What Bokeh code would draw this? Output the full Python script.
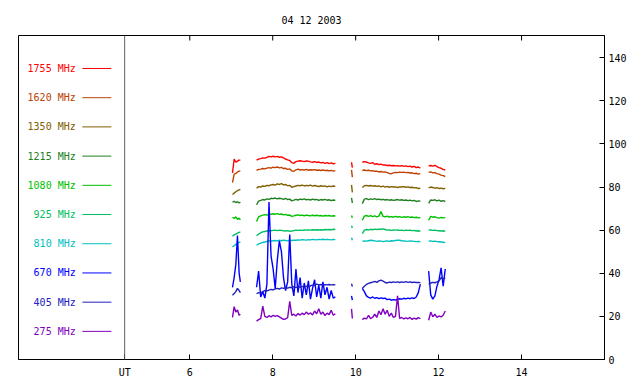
import numpy as np
from bokeh.plotting import figure
from bokeh.models import Range1d, LinearAxis, FixedTicker, Span, ColumnDataSource
from bokeh.core.properties import value
from bokeh.embed import file_html
from bokeh.resources import INLINE

GAP = float("nan")

title_text = "04 12 2003"
freq_labels = ["1755 MHz", "1620 MHz", "1350 MHz", "1215 MHz", "1080 MHz",
               "925 MHz", "810 MHz", "670 MHz", "405 MHz", "275 MHz"]
colors = ["#FF0000", "#C04000", "#806000", "#208020", "#00C000",
          "#00C060", "#00C0C0", "#0000FF", "#2020C0", "#8000C0"]
x_ticks = [6, 8, 10, 12, 14]
y_ticks = [0, 20, 40, 60, 80, 100, 120, 140]
ut_position = 4.43
y_max = 150.3

# observation times (UT hours), five segments
t_A = [7.03, 7.07, 7.11, 7.15, 7.19, 7.22]
t_B = [7.61, 7.66, 7.71, 7.76, 7.81, 7.86, 7.91, 7.96, 8.01, 8.06, 8.11, 8.16, 8.21,
       8.26, 8.31, 8.36, 8.41, 8.46, 8.51, 8.56, 8.61, 8.66, 8.71, 8.76, 8.81, 8.86,
       8.91, 8.96, 9.01, 9.06, 9.11, 9.16, 9.21, 9.26, 9.31, 9.36, 9.41, 9.46, 9.51]
t_C = [9.90, 9.92]
t_D = [10.16, 10.21, 10.26, 10.31, 10.36, 10.41, 10.46, 10.51, 10.56, 10.61, 10.66,
       10.71, 10.76, 10.81, 10.86, 10.91, 10.96, 11.01, 11.06, 11.11, 11.16, 11.21,
       11.26, 11.31, 11.36, 11.41, 11.46, 11.51, 11.56]
t_E = [11.76, 11.81, 11.86, 11.91, 11.96, 12.01, 12.06, 12.11, 12.16]
hours = t_A + [GAP] + t_B + [GAP] + t_C + [GAP] + t_D + [GAP] + t_E

f1755 = [86.5, 93.0, 91.5, 92.0, 92.5, 92.5, GAP,
         92.5, 93.0, 93.2, 93.5, 93.4, 93.8, 94.2, 94.0, 94.3, 94.0, 94.2, 93.8, 94.0,
         93.5, 93.0, 92.6, 92.3, 91.3, 91.0, 91.8, 92.0, 92.2, 92.0, 91.8, 92.1, 92.0,
         91.7, 91.5, 91.8, 91.4, 91.6, 91.2, 91.4, 91.0, 91.3, 90.9, 91.2, 90.8, 91.0, GAP,
         91.5, 89.0, GAP,
         91.5, 91.8, 91.6, 91.2, 91.0, 91.3, 90.6, 90.8, 90.4, 90.6, 90.2, 90.3, 90.0,
         90.1, 89.9, 90.0, 89.8, 89.9, 89.7, 89.9, 89.6, 89.8, 89.5, 89.7, 89.3, 89.6,
         89.0, 89.3, 88.8, GAP,
         89.8, 90.0, 89.7, 90.1, 89.5, 89.0, 88.7, 88.2, 87.9]
f1620 = [82.0, 86.0, 86.3, 87.0, 87.4, 87.5, GAP,
         87.8, 88.2, 88.3, 88.6, 88.4, 88.8, 89.0, 88.8, 89.2, 89.0, 89.3, 88.9, 89.1,
         88.6, 88.7, 88.2, 88.4, 87.5, 87.3, 88.0, 88.3, 87.9, 88.1, 87.9, 88.2, 87.8,
         88.0, 87.9, 88.1, 87.8, 87.9, 87.7, 87.9, 87.6, 87.8, 87.5, 87.7, 87.4, 87.6, GAP,
         88.0, 84.6, GAP,
         87.7, 87.9, 87.6, 87.8, 87.5, 87.6, 87.3, 87.4, 87.0, 87.2, 86.9, 87.0, 86.7,
         86.3, 86.2, 86.6, 86.8, 86.7, 86.9, 86.8, 86.9, 86.7, 86.8, 86.5, 86.6, 86.2,
         86.4, 86.0, 86.2, GAP,
         86.8, 87.0, 86.6, 86.7, 86.2, 86.0, 85.5, 85.3, 84.9]
f1350 = [76.5, 77.2, 77.8, 78.3, 78.7, 78.9, GAP,
         79.5, 80.2, 80.0, 80.5, 80.3, 80.8, 80.6, 81.0, 81.2, 80.9, 81.5, 81.2, 81.6,
         81.0, 81.2, 80.6, 80.8, 79.9, 80.2, 80.5, 80.8, 80.6, 80.9, 80.5, 80.8, 80.6,
         80.9, 80.4, 80.7, 80.5, 80.2, 80.6, 80.3, 80.5, 80.1, 80.4, 80.2, 80.5, 80.3, GAP,
         81.0, 77.5, GAP,
         79.8, 80.6, 80.8, 80.5, 80.7, 80.4, 80.6, 80.3, 80.5, 80.1, 80.4, 80.0, 80.3,
         79.9, 80.2, 80.0, 80.1, 79.8, 80.1, 80.0, 80.2, 79.9, 80.1, 79.8, 79.9, 79.6,
         79.7, 79.3, 79.5, GAP,
         79.6, 80.0, 79.8, 79.5, 79.7, 79.3, 79.5, 79.2, 79.4]
f1215 = [73.0, 73.4, 72.8, 73.2, 72.6, 73.0, GAP,
         71.8, 73.5, 73.8, 74.2, 74.0, 74.5, 74.3, 74.8, 74.6, 74.9, 74.5, 74.8, 74.6,
         74.3, 74.7, 74.2, 74.4, 73.6, 73.9, 74.3, 74.0, 74.4, 74.2, 74.5, 74.1, 74.3,
         74.0, 74.4, 74.1, 74.3, 73.8, 74.2, 74.0, 74.3, 73.9, 74.1, 73.7, 74.0, 73.8, GAP,
         75.0, 72.6, GAP,
         72.3, 74.4, 74.6, 74.2, 74.5, 74.3, 74.6, 74.2, 74.4, 74.1, 74.3, 74.0, 74.2,
         73.9, 74.1, 73.8, 74.0, 74.2, 73.9, 74.1, 73.8, 74.0, 73.7, 73.9, 73.6, 73.8,
         73.3, 73.6, 73.4, GAP,
         72.4, 74.0, 73.8, 74.1, 73.6, 73.9, 73.4, 73.7, 73.3]
f1080 = [66.0, 65.4, 66.2, 65.0, 65.6, 64.8, GAP,
         64.0, 66.2, 66.6, 67.0, 67.2, 67.0, 67.5, 67.3, 67.6, 67.4, 67.7, 67.3, 67.5,
         67.1, 67.3, 66.9, 67.0, 66.4, 66.6, 66.9, 67.1, 66.8, 67.0, 66.7, 67.0, 66.8,
         66.6, 66.9, 66.7, 66.9, 66.6, 66.8, 66.5, 66.8, 66.6, 66.8, 66.5, 66.7, 66.6, GAP,
         66.8, 65.8, GAP,
         64.6, 66.5, 66.8, 66.4, 66.7, 66.3, 66.6, 66.2, 66.5, 68.6, 66.4, 66.2, 66.5,
         66.1, 66.3, 66.0, 66.4, 66.1, 66.3, 65.9, 66.2, 66.0, 66.3, 65.9, 66.1, 65.8,
         66.0, 65.7, 65.9, GAP,
         64.6, 66.4, 66.0, 66.2, 65.8, 65.6, 65.9, 65.7, 65.8]
f925 = [57.2, 57.8, 58.2, 58.6, 59.0, 59.2, GAP,
        57.4, 58.2, 58.8, 59.2, 59.4, 59.6, 59.8, 59.7, 59.9, 60.0, 59.8, 60.0, 59.9,
        59.7, 59.6, 59.8, 59.5, 59.6, 59.8, 60.0, 59.9, 60.0, 59.9, 60.1, 60.0, 60.1,
        60.0, 60.2, 60.1, 60.2, 60.1, 60.2, 60.1, 60.3, 60.2, 60.3, 60.2, 60.4, 60.3, GAP,
        62.0, 61.0, GAP,
        58.4, 60.0, 60.3, 60.1, 60.4, 60.2, 60.5, 60.3, 60.5, 60.4, 60.6, 60.3, 60.0,
        60.1, 59.9, 60.1, 60.0, 60.1, 59.9, 60.0, 59.8, 60.0, 59.9, 60.0, 59.8, 59.9,
        59.6, 59.7, 59.5, GAP,
        60.0, 60.1, 59.9, 60.0, 59.8, 59.7, 59.6, 59.7, 59.5]
f810 = [52.2, 52.8, 53.4, 54.0, 54.3, 54.5, GAP,
        53.0, 53.6, 54.0, 54.3, 54.5, 54.8, 55.0, 55.0, 55.1, 55.2, 55.0, 55.3, 55.1,
        55.4, 55.2, 55.0, 55.3, 55.2, 55.4, 55.3, 55.5, 55.4, 55.6, 55.5, 55.4, 55.6,
        55.5, 55.7, 55.6, 55.5, 55.7, 55.6, 55.8, 55.6, 55.7, 55.6, 55.5, 55.7, 55.6, GAP,
        56.5, 55.3, GAP,
        54.8, 55.0, 54.9, 55.1, 55.3, 55.2, 55.0, 54.8, 55.0, 54.9, 54.7, 54.9, 55.0,
        54.8, 55.1, 55.0, 55.2, 55.4, 55.3, 55.1, 55.0, 54.9, 54.8, 55.0, 54.9, 54.8,
        54.7, 54.8, 54.6, GAP,
        54.9, 55.0, 54.8, 54.9, 54.7, 54.6, 54.5, 54.4, 54.2]
f670 = [33.5, 38.0, 44.0, 57.5, 40.0, 36.0, GAP,
        33.5, 41.0, 29.0, 31.5, 28.5, 35.0, 73.0, 48.0, 42.0, 33.0, 46.0, 55.0, 50.0,
        38.0, 32.0, 36.0, 58.0, 35.0, 29.5, 42.0, 31.0, 38.0, 28.5, 35.5, 30.0, 36.5,
        28.0, 33.0, 37.0, 29.0, 34.5, 28.5, 36.0, 30.0, 33.5, 28.0, 32.0, 28.5, 29.0, GAP,
        29.5, 27.5, GAP,
        33.0, 31.5, 29.5, 28.8, 28.5, 29.0, 28.4, 28.7, 28.2, 28.6, 28.3, 28.5, 27.8,
        28.0, 27.5, 27.8, 27.6, 27.9, 28.2, 28.0, 28.4, 28.1, 28.5, 28.2, 28.6, 28.3,
        29.0, 31.0, 35.0, GAP,
        41.0, 30.0, 28.0, 29.5, 34.0, 37.0, 42.5, 34.0, 42.0]
f405 = [29.8, 30.6, 31.5, 33.0, 32.0, 31.0, GAP,
        30.5, 31.0, 30.8, 31.5, 32.0, 31.8, 32.2, 32.5, 32.3, 32.8, 33.0, 32.7, 33.2,
        33.0, 33.4, 33.1, 33.5, 33.3, 33.8, 33.4, 33.7, 33.5, 33.9, 33.6, 34.0, 33.7,
        34.2, 34.5, 34.3, 35.0, 34.6, 34.8, 34.5, 34.7, 34.6, 34.8, 34.6, 34.7, 34.6, GAP,
        35.2, 33.8, GAP,
        33.0, 34.0, 34.8, 35.3, 35.6, 35.9, 36.2, 35.8, 36.5, 36.8, 36.4, 35.7, 35.5,
        35.9, 35.7, 36.0, 35.8, 36.0, 35.7, 36.0, 35.8, 36.1, 35.8, 36.0, 35.7, 35.9,
        35.7, 35.8, 35.6, GAP,
        35.0, 35.5, 35.8, 35.6, 36.0, 36.5, 38.0, 37.5, 37.8]
f275 = [19.5, 24.5, 22.0, 23.0, 20.5, 21.0, GAP,
        17.8, 18.5, 19.0, 24.8, 20.0, 19.5, 20.3, 19.8, 20.5, 20.0, 20.4, 19.8, 19.2,
        18.6, 18.8, 19.4, 27.0, 20.5, 21.0, 20.2, 21.3, 20.6, 21.5, 20.8, 22.0, 21.0,
        21.6, 20.7, 22.5, 21.2, 23.5, 21.0, 22.0, 20.4, 21.5, 20.8, 22.8, 20.5, 21.2, GAP,
        23.5, 19.0, GAP,
        18.5, 19.2, 18.8, 20.5, 19.0, 19.6, 21.0, 19.5, 22.5, 20.8, 23.5, 21.0, 22.8,
        20.0, 21.5, 19.5, 20.0, 29.5, 19.0, 19.5, 18.8, 19.3, 18.9, 19.5, 18.6, 19.2,
        18.7, 19.4, 19.0, GAP,
        18.2, 22.0, 19.8, 21.0, 19.5, 20.2, 19.8, 20.5, 22.5]
series = [f1755, f1620, f1350, f1215, f1080, f925, f810, f670, f405, f275]

MONO = "DejaVu Sans Mono"
FRAME_H = 324  # plot frame height in pixels

p = figure(width=640, height=384, x_range=Range1d(1.87, 16.0), y_range=Range1d(0, y_max),
           output_backend="svg", toolbar_location=None,
           x_axis_location=None, y_axis_location=None,
           min_border_left=18, min_border_right=36, min_border_top=35, min_border_bottom=25)
p.grid.grid_line_color = None
p.outline_line_color = "black"
p.outline_line_width = 1
p.outline_line_alpha = 1.0
p.background_fill_color = "white"
p.border_fill_color = "white"

p.title.text = title_text
p.title.align = "center"
p.title.text_font = MONO
p.title.text_font_size = "10px"
p.title.text_font_style = "normal"
p.title.text_color = "black"
p.title.standoff = 20


def style_axis(ax):
    ax.major_tick_in = 5
    ax.major_tick_out = 0
    ax.minor_tick_line_color = None
    ax.axis_line_color = "black"
    ax.major_tick_line_color = "black"
    ax.major_label_text_font = MONO
    ax.major_label_text_color = "black"
    ax.major_label_text_font_size = "10px"


bottom_axis = LinearAxis(ticker=FixedTicker(ticks=[ut_position] + x_ticks),
                         major_label_overrides={ut_position: "UT"})
style_axis(bottom_axis)
bottom_axis.major_label_standoff = 7
p.add_layout(bottom_axis, "below")

right_axis = LinearAxis(ticker=FixedTicker(ticks=y_ticks))
style_axis(right_axis)
right_axis.major_label_standoff = 4
p.add_layout(right_axis, "right")

# inward tick marks along the top edge (5 px long)
tick_len = 5 * y_max / FRAME_H
p.segment(x0=x_ticks, y0=[y_max - tick_len] * len(x_ticks), x1=x_ticks,
          y1=[y_max] * len(x_ticks), line_color="black", line_width=1)

p.add_layout(Span(location=ut_position, dimension="height",
                  line_color="#606060", line_width=1))

x_arr = np.array(hours, dtype=float)
for vals, col in zip(series, colors):
    p.line(x_arr, np.array(vals, dtype=float), line_color=col, line_width=1.4)

# legend block in the left panel
legend_top, legend_step = 135.0, 13.55
ly = [legend_top - legend_step * i for i in range(len(freq_labels))]
leg = ColumnDataSource(dict(x=[3.25] * len(ly), x0=[3.41] * len(ly), x1=[4.11] * len(ly),
                            y=ly, text=freq_labels, color=colors))
p.text(x="x", y="y", text="text", source=leg, text_color="color",
       text_align="right", text_baseline="middle",
       text_font=value(MONO), text_font_size="10px")
p.segment(x0="x0", y0="y", x1="x1", y1="y", source=leg, line_color="color", line_width=1)

open("out.html", "w").write(file_html(p, INLINE))
